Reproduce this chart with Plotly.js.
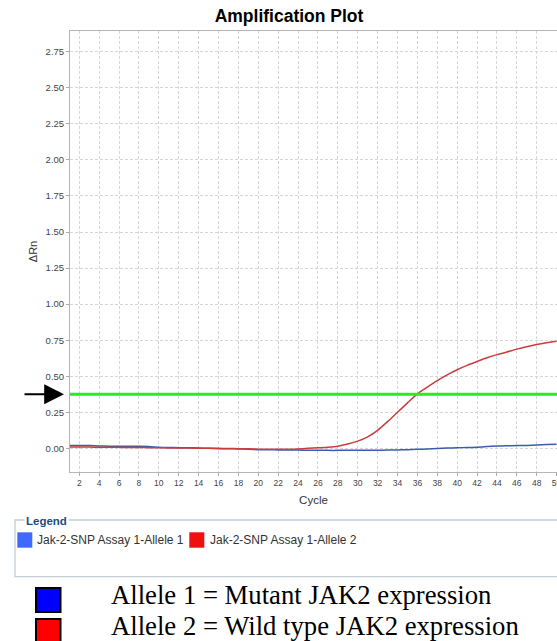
<!DOCTYPE html>
<html>
<head>
<meta charset="utf-8">
<script src="https://cdn.plot.ly/plotly-3.0.1.min.js"></script>
<style>
html,body{margin:0;padding:0;background:#fff;overflow:hidden;}
#chart{width:557px;height:641px;}
</style>
</head>
<body>
<div id="chart"></div>
<script>
// ---- data ----
const cycles = [1,2,3,4,5,6,7,8,9,10,11,12,13,14,15,16,17,18,19,20,21,22,23,24,25,26,27,28,29,30,31,32,33,34,35,36,37,38,39,40,41,42,43,44,45,46,47,48,49,50];
const allele1 = [0.020,0.020,0.019,0.017,0.015,0.014,0.014,0.014,0.012,0.008,0.006,0.005,0.004,0.003,0.000,-0.002,-0.003,-0.004,-0.006,-0.009,-0.010,-0.011,-0.012,-0.012,-0.013,-0.013,-0.014,-0.014,-0.014,-0.014,-0.014,-0.013,-0.012,-0.011,-0.009,-0.007,-0.004,-0.001,0.002,0.004,0.006,0.008,0.012,0.016,0.018,0.019,0.020,0.023,0.026,0.029];
const allele2 = [0.010,0.010,0.009,0.008,0.008,0.007,0.006,0.006,0.005,0.004,0.003,0.003,0.002,0.001,0.000,0.000,-0.001,-0.002,-0.003,-0.006,-0.007,-0.007,-0.006,-0.004,0.000,0.004,0.008,0.015,0.030,0.050,0.080,0.125,0.185,0.250,0.315,0.378,0.425,0.470,0.510,0.545,0.575,0.602,0.628,0.650,0.668,0.688,0.705,0.720,0.732,0.742];
const threshold = 0.375;
const seriesNames = ['Jak-2-SNP Assay 1-Allele 1', 'Jak-2-SNP Assay 1-Allele 2'];
const lineColors = ['#3b5cab', '#c93d3f'];
const legendSwatch = ['#4169ff', '#f01010'];
const alleleLabels = ['Allele 1 = Mutant JAK2 expression', 'Allele 2 = Wild type JAK2 expression'];
const alleleSwatch = ['#0000ff', '#ff0000'];
const xTicks = [2,4,6,8,10,12,14,16,18,20,22,24,26,28,30,32,34,36,38,40,42,44,46,48,50];
const yTicks = [0,0.25,0.5,0.75,1.0,1.25,1.5,1.75,2.0,2.25,2.5,2.75];
const yTickText = ['0.00','0.25','0.50','0.75','1.00','1.25','1.50','1.75','2.00','2.25','2.50','2.75'];

// ---- layout helpers (pixel -> paper) ----
const W = 557, H = 641, mL = 70, mR = 0, mT = 31, mB = 169;
const pw = W - mL - mR, ph = H - mT - mB;
const px = x => (x - mL) / pw;
const py = y => (H - mB - y) / ph;

const sans = 'Liberation Sans, Arial, sans-serif';
const serif = 'Liberation Serif, Times New Roman, serif';

const traces = [
  {x: cycles, y: allele1, name: seriesNames[0], type: 'scatter', mode: 'lines',
   line: {color: lineColors[0], width: 1.5, shape: 'spline', smoothing: 0.6}},
  {x: cycles, y: allele2, name: seriesNames[1], type: 'scatter', mode: 'lines',
   line: {color: lineColors[1], width: 1.5, shape: 'spline', smoothing: 0.6}}
];

const shapes = [
  // threshold
  {type: 'line', xref: 'paper', yref: 'y', x0: 0, x1: 1, y0: threshold, y1: threshold,
   line: {color: '#22ee22', width: 3}},
  // legend fieldset
  {type: 'rect', xref: 'paper', yref: 'paper', x0: px(15), x1: px(620), y0: py(520), y1: py(576.7),
   line: {color: '#c3ced6', width: 1.3}, fillcolor: 'rgba(0,0,0,0)'},
  // legend swatches
  {type: 'rect', xref: 'paper', yref: 'paper', x0: px(17.3), x1: px(32.3), y0: py(532.3), y1: py(547.7),
   line: {width: 0}, fillcolor: legendSwatch[0]},
  {type: 'rect', xref: 'paper', yref: 'paper', x0: px(189.3), x1: px(204.3), y0: py(532.3), y1: py(547.7),
   line: {width: 0}, fillcolor: legendSwatch[1]},
  // allele key squares
  {type: 'rect', xref: 'paper', yref: 'paper', x0: px(36), x1: px(60.5), y0: py(588), y1: py(612),
   line: {color: '#000', width: 2}, fillcolor: alleleSwatch[0]},
  {type: 'rect', xref: 'paper', yref: 'paper', x0: px(36), x1: px(60.5), y0: py(619), y1: py(644),
   line: {color: '#000', width: 2}, fillcolor: alleleSwatch[1]}
];

const annotations = [
  // arrow pointing at the threshold
  {xref: 'paper', yref: 'y', x: px(64), y: threshold, ax: -41, ay: 0, text: '',
   showarrow: true, arrowhead: 2, arrowsize: 2.2, arrowwidth: 1.8, arrowcolor: '#000'},
  // legend title
  {xref: 'paper', yref: 'paper', x: px(24), y: py(520.5), xanchor: 'left', yanchor: 'middle',
   text: '<b>Legend</b>', showarrow: false, bgcolor: '#fff', borderpad: 1,
   font: {family: sans, size: 11.5, color: '#1c4a86'}},
  {xref: 'paper', yref: 'paper', x: px(35), y: py(540), xanchor: 'left', yanchor: 'middle',
   text: seriesNames[0], showarrow: false, font: {family: sans, size: 12, color: '#333'}},
  {xref: 'paper', yref: 'paper', x: px(207.5), y: py(540), xanchor: 'left', yanchor: 'middle',
   text: seriesNames[1], showarrow: false, font: {family: sans, size: 12, color: '#333'}},
  {xref: 'paper', yref: 'paper', x: px(109), y: py(595), xanchor: 'left', yanchor: 'middle',
   text: alleleLabels[0], showarrow: false, font: {family: serif, size: 26.7, color: '#000'}},
  {xref: 'paper', yref: 'paper', x: px(109), y: py(625.7), xanchor: 'left', yanchor: 'middle',
   text: alleleLabels[1], showarrow: false, font: {family: serif, size: 26.7, color: '#000'}}
];

const layout = {
  width: W, height: H,
  margin: {l: mL, r: mR, t: mT, b: mB, pad: 0},
  paper_bgcolor: '#fff', plot_bgcolor: '#fff',
  showlegend: false,
  title: {text: '<b>Amplification Plot</b>', xref: 'container', yref: 'container',
          x: 289 / W, xanchor: 'center', y: 1 - 16 / H, yanchor: 'middle',
          font: {family: sans, size: 17.5, color: '#000'}},
  xaxis: {
    range: [1.065, 50.04], tickmode: 'array', tickvals: xTicks,
    ticklabeloverflow: 'allow',
    showgrid: true, gridcolor: '#d6d6d6', griddash: '3px,2px', gridwidth: 1,
    zeroline: false, showline: true, linecolor: '#b5b5b5', linewidth: 1, mirror: true,
    ticks: 'outside', ticklen: 3, tickcolor: '#aaa',
    tickfont: {family: sans, size: 8.5, color: '#444'},
    title: {text: 'Cycle', standoff: 8, font: {family: sans, size: 11.5, color: '#333'}}
  },
  yaxis: {
    range: [-0.164, 2.894], tickmode: 'array', tickvals: yTicks, ticktext: yTickText,
    showgrid: true, gridcolor: '#d6d6d6', griddash: '3px,2px', gridwidth: 1,
    zeroline: false, showline: true, linecolor: '#b5b5b5', linewidth: 1, mirror: true,
    ticks: 'outside', ticklen: 3, tickcolor: '#aaa',
    tickfont: {family: sans, size: 9.5, color: '#444'},
    title: {text: 'ΔRn', standoff: 5, font: {family: sans, size: 11, color: '#333'}}
  },
  shapes: shapes,
  annotations: annotations
};

Plotly.newPlot('chart', traces, layout, {staticPlot: true, displayModeBar: false});
</script>
</body>
</html>
